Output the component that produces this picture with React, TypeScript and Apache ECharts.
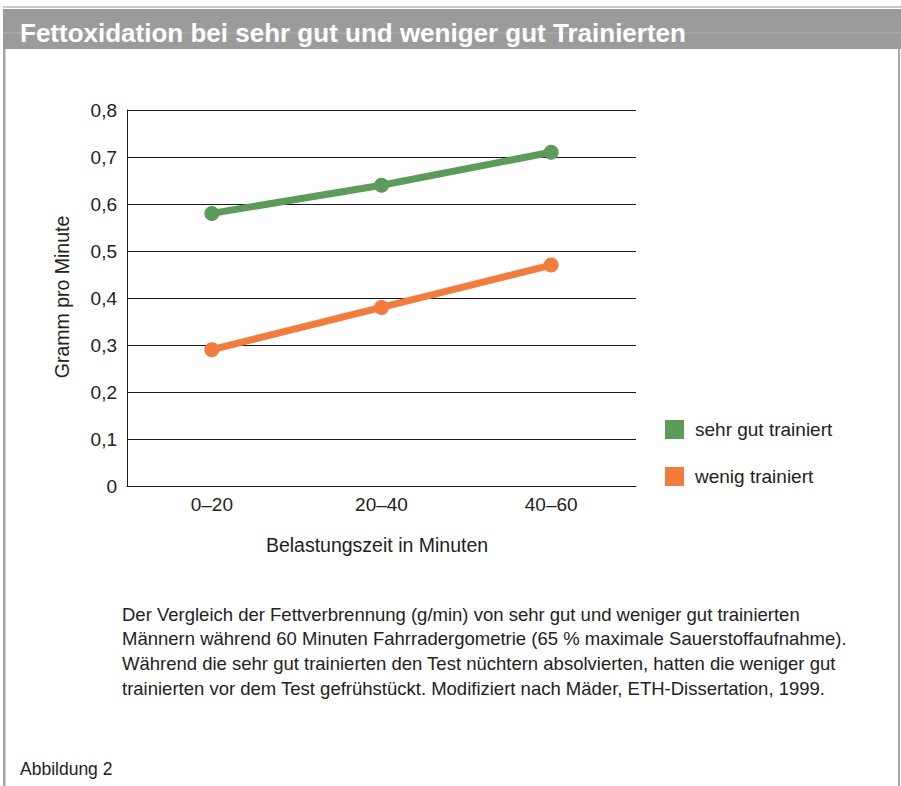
import React, { useEffect, useRef } from "react";
import * as echarts from "echarts";

const categories = ["0–20", "20–40", "40–60"];
const sehrGut = [0.58, 0.64, 0.71];
const wenig = [0.29, 0.38, 0.47];
const seriesNames = ["sehr gut trainiert", "wenig trainiert"];
const titleText = "Fettoxidation bei sehr gut und weniger gut Trainierten";
const yAxisName = "Gramm pro Minute";
const xAxisName = "Belastungszeit in Minuten";
const captionLines = [
  "Der Vergleich der Fettverbrennung (g/min) von sehr gut und weniger gut trainierten",
  "Männern während 60 Minuten Fahrradergometrie (65 % maximale Sauerstoffaufnahme).",
  "Während die sehr gut trainierten den Test nüchtern absolvierten, hatten die weniger gut",
  "trainierten vor dem Test gefrühstückt. Modifiziert nach Mäder, ETH-Dissertation, 1999.",
];
const figureLabel = "Abbildung 2";

const FONT = "'Liberation Sans', Arial, Helvetica, sans-serif";
const GREEN = "#5a9c58";
const ORANGE = "#f37b3b";
const TXT = "#222222";

export default function App() {
  const ref = useRef<HTMLDivElement>(null);
  useEffect(() => {
    document.body.style.margin = "0";
    const chart = echarts.init(ref.current!, undefined, { renderer: "svg" });
    chart.setOption({
      animation: false,
      backgroundColor: "#ffffff",
      grid: { left: 127, right: 265, top: 110, bottom: 300, containLabel: false },
      legend: {
        orient: "vertical",
        left: 665,
        top: 420,
        padding: 0,
        itemWidth: 19,
        itemHeight: 19,
        itemGap: 28,
        icon: "rect",
        data: seriesNames,
        textStyle: { fontSize: 19, color: TXT, fontFamily: FONT, padding: [0, 0, 0, 6] },
      },
      xAxis: {
        type: "category",
        data: categories,
        boundaryGap: true,
        axisLine: { show: true, lineStyle: { color: "#1a1a1a", width: 1 } },
        axisTick: { show: false },
        axisLabel: { fontSize: 19, color: TXT, fontFamily: FONT, margin: 9 },
      },
      yAxis: {
        type: "value",
        min: 0,
        max: 0.8,
        interval: 0.1,
        axisLine: { show: true, lineStyle: { color: "#1a1a1a", width: 1 } },
        axisTick: { show: false },
        splitLine: { show: true, lineStyle: { color: "#1a1a1a", width: 1 } },
        axisLabel: {
          fontSize: 19,
          color: TXT,
          fontFamily: FONT,
          margin: 10,
          formatter: (v: number) => (v === 0 ? "0" : v.toFixed(1).replace(".", ",")),
        },
      },
      series: [
        {
          name: seriesNames[0],
          type: "line",
          data: sehrGut,
          symbol: "circle",
          symbolSize: 15,
          color: GREEN,
          lineStyle: { width: 7, color: GREEN },
          itemStyle: { color: GREEN },
        },
        {
          name: seriesNames[1],
          type: "line",
          data: wenig,
          symbol: "circle",
          symbolSize: 15,
          color: ORANGE,
          lineStyle: { width: 7, color: ORANGE },
          itemStyle: { color: ORANGE },
        },
      ],
      graphic: [
        { type: "rect", shape: { x: 3, y: 6, width: 898, height: 2 }, style: { fill: "#c9c9c9" }, silent: true },
        { type: "rect", shape: { x: 3, y: 9, width: 898, height: 40 }, style: { fill: "#9b9b9b" }, silent: true },
        { type: "rect", shape: { x: 3, y: 32.5, width: 898, height: 1 }, style: { fill: "#b4b4b4" }, silent: true },
        { type: "rect", shape: { x: 3, y: 49, width: 2.5, height: 737 }, style: { fill: "#a2a2a2" }, silent: true },
        { type: "rect", shape: { x: 898, y: 49, width: 2, height: 737 }, style: { fill: "#a8a8a8" }, silent: true },
        {
          type: "text",
          x: 20,
          y: 33,
          style: {
            text: titleText,
            fill: "#ffffff",
            font: `bold 26px ${FONT}`,
            textAlign: "left",
            textVerticalAlign: "middle",
          },
        },
        {
          type: "text",
          x: 62,
          y: 297,
          rotation: Math.PI / 2,
          style: {
            text: yAxisName,
            fill: TXT,
            font: `19.5px ${FONT}`,
            textAlign: "center",
            textVerticalAlign: "middle",
          },
        },
        {
          type: "text",
          x: 377,
          y: 545,
          style: {
            text: xAxisName,
            fill: TXT,
            font: `19.5px ${FONT}`,
            textAlign: "center",
            textVerticalAlign: "middle",
          },
        },
        ...captionLines.map((line, i) => ({
          type: "text",
          x: 122,
          y: 614 + i * 24.7,
          style: {
            text: line,
            fill: TXT,
            font: `18.5px ${FONT}`,
            textAlign: "left",
            textVerticalAlign: "middle",
          },
        })),
        {
          type: "text",
          x: 20,
          y: 769,
          style: {
            text: figureLabel,
            fill: TXT,
            font: `17.5px ${FONT}`,
            textAlign: "left",
            textVerticalAlign: "middle",
          },
        },
      ],
    });
    return () => chart.dispose();
  }, []);
  return <div ref={ref} style={{ width: 901, height: 786 }} />;
}
